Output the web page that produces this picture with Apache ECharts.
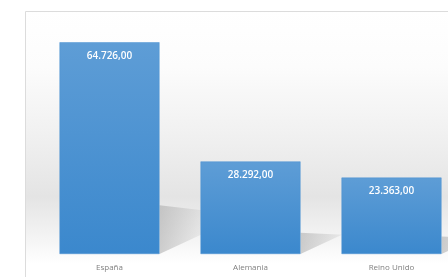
<!DOCTYPE html>
<html><head><meta charset="utf-8">
<script src="https://cdn.jsdelivr.net/npm/echarts@6/dist/echarts.min.js"></script>
<style>html,body{margin:0;padding:0;background:#fff;}#c{width:448px;height:277px;}</style>
</head><body><div id="c"></div>
<script>
const categories = ['España', 'Alemania', 'Reino Unido'];
const values = [64726, 28292, 23363];

function fmt(v) {
  const s = Math.round(v).toString().replace(/\B(?=(\d{3})+(?!\d))/g, '.');
  return s + ',00';
}

const chart = echarts.init(document.getElementById('c'), null, {renderer: 'canvas'});
chart.setOption({
  animation: false,
  backgroundColor: '#fff',
  graphic: [{
    type: 'rect', z: -10, silent: true,
    shape: {x: 25.5, y: 11.5, width: 440, height: 280},
    style: {
      stroke: '#dcdcdc', lineWidth: 1,
      fill: new echarts.graphic.LinearGradient(0, 0, 0, 1, [
        {offset: 0, color: '#ffffff'},
        {offset: 0.2, color: '#fcfcfc'},
        {offset: 0.45, color: '#f0f0f0'},
        {offset: 0.66, color: '#e4e4e4'},
        {offset: 0.8, color: '#f3f3f3'},
        {offset: 0.9, color: '#ffffff'},
        {offset: 1, color: '#ffffff'}
      ])
    }
  }],
  grid: {left: 39, width: 423, top: 25, bottom: 23, outerBoundsMode: 'none', containLabel: false},
  xAxis: {
    type: 'category', data: categories,
    axisLine: {show: false}, axisTick: {show: false},
    axisLabel: {color: '#808080', fontSize: 8, margin: 10, fontFamily: 'Open Sans'}
  },
  yAxis: {type: 'value', min: 0, max: 70000, show: false, splitLine: {show: false}},
  series: [{
    type: 'custom',
    z: 1,
    data: values.map((v, i) => [i, v]),
    renderItem: function (params, api) {
      const i = api.value(0);
      const base = api.coord([i, 0]);
      const top = api.coord([i, api.value(1)]);
      const bw = api.size([1, 0])[0];
      const x0 = base[0] + 50;
      const x1 = base[0] + bw - 50 + 2;
      const h = (base[1] - top[1]) * 0.23;
      const yb = base[1];
      return {
        type: 'polygon',
        shape: {points: [[x0, yb - h], [x1, yb - h * 0.9], [x1, yb - 20], [x0, yb]]},
        style: {
          fill: new echarts.graphic.LinearGradient(0, 0, 1, 0, [
            {offset: 0, color: 'rgba(160,160,160,0.5)'},
            {offset: 1, color: 'rgba(160,160,160,0.12)'}
          ])
        }
      };
    }
  }, {
    type: 'bar',
    z: 2,
    data: values,
    barWidth: 100,
    itemStyle: {
      color: new echarts.graphic.LinearGradient(0, 0, 0, 1, [
        {offset: 0, color: '#5e9dd6'},
        {offset: 1, color: '#3b88cd'}
      ]),
      borderColor: '#4d93d3', borderWidth: 0.5
    },
    label: {
      show: true, position: 'insideTop', distance: 9,
      color: '#ffffff', fontSize: 10, fontWeight: 600, fontFamily: 'Open Sans',
      formatter: p => fmt(p.value)
    }
  }]
});
</script></body></html>
